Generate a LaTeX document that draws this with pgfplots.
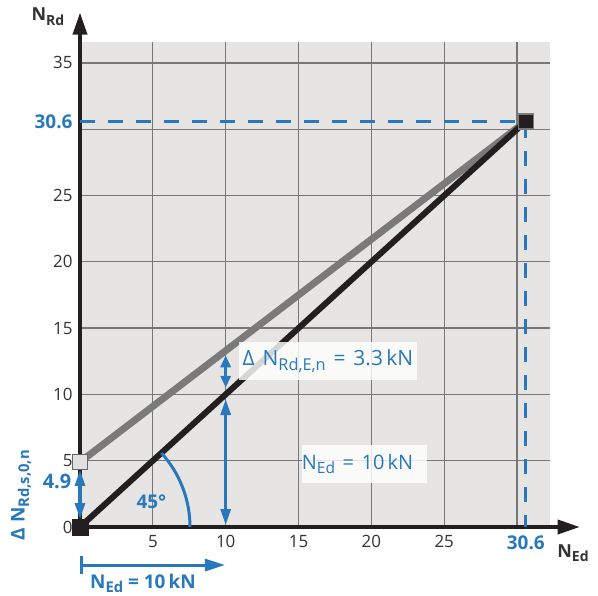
\documentclass[border=0pt]{standalone}
\usepackage{pgfplots}
\pgfplotsset{compat=1.18}
\usepackage{fontspec}
\setmainfont{Open Sans}
\usetikzlibrary{arrows.meta}
\definecolor{bgc}{HTML}{E7E5E3}
\definecolor{gridc}{HTML}{777777}
\definecolor{bl}{HTML}{2878BE}
\definecolor{dk}{HTML}{231F20}
\definecolor{gl}{HTML}{7A7A7A}
\definecolor{txt}{HTML}{333333}
\newcommand\sub[1]{\raisebox{-0.45ex}{\scalebox{0.78}{#1}}}
\newcommand\wsp{\hspace{0.38em}}
\begin{document}
\begin{tikzpicture}
\path[use as bounding box, fill=white] (0,0) rectangle (598bp,596bp);
\begin{axis}[
  at={(80bp,69bp)}, anchor=south west,
  width=470bp, height=485bp, scale only axis,
  xmin=0, xmax=32.26, ymin=0, ymax=36.58,
  axis line style={draw=none},
  axis background/.style={fill=bgc},
  clip=false,
  /pgf/number format/assume math mode=true,
  xtick={5,10,15,20,25,30}, xticklabels={5,10,15,20,25,{}},
  ytick={0,5,10,15,20,25,30,35}, yticklabels={0,5,10,15,20,25,{},35},
  extra x ticks={30.6}, extra x tick labels={\textcolor{bl}{\bfseries\fontsize{19}{21}\selectfont 30.6}},
  extra x tick style={grid=none},
  extra y ticks={30.6}, extra y tick labels={\textcolor{bl}{\bfseries\fontsize{19}{21}\selectfont 30.6}},
  extra y tick style={grid=none},
  grid=major, major grid style={gridc, line width=1.3bp},
  major tick length=0pt,
  tick style={draw=none},
  tick label style={font=\fontsize{17}{19}\selectfont, text=txt},
  xticklabel style={yshift=-5bp},
  yticklabel style={xshift=-4bp},
]
% axes with arrows
\addplot[dk, line width=3.5bp, arrows={-Triangle[length=22bp,width=14bp]}] coordinates {(0,0) (34.3,0)};
\addplot[dk, line width=3.5bp, arrows={-Triangle[length=22bp,width=14bp]}] coordinates {(0,0) (0,38.8)};
% dashed guides
\addplot[bl, line width=3bp, dash pattern=on 15bp off 13bp] coordinates {(0,30.6) (30.6,30.6) (30.6,0)};
% main lines
\addplot[gl, line width=7bp] coordinates {(0,4.9) (30.6,30.6)};
\addplot[dk, line width=6bp] coordinates {(0,0) (30.6,30.6)};
% blue arrows
\addplot[bl, line width=3bp, arrows={Triangle[length=16bp,width=10bp]-Triangle[length=16bp,width=10bp]}] coordinates {(0,0.6) (0,4.3)};
\addplot[bl, line width=3bp, arrows={Triangle[length=16bp,width=10bp]-Triangle[length=16bp,width=10bp]}] coordinates {(10,0.15) (10,9.65)};
\addplot[bl, line width=3bp, arrows={Triangle[length=12bp,width=10bp]-Triangle[length=12bp,width=10bp]}] coordinates {(10,10.5) (10,12.95)};
\addplot[bl, line width=3bp, arrows={Bar[width=18bp]-Triangle[length=20bp,width=12bp]}] coordinates {(0,-2.87) (9.95,-2.87)};
% markers
\addplot[only marks, mark=square*, mark size=7.8bp, mark options={fill=dk, draw=dk}] coordinates {(0,0)};
\addplot[only marks, mark=square*, mark size=7.5bp, mark options={fill=black!12, draw=black!60, line width=1.2bp}] coordinates {(0,4.9)};
\addplot[only marks, mark=square*, mark size=7.5bp, mark options={fill=dk, draw=gl, line width=1.5bp}] coordinates {(30.6,30.6)};
% 45 degree arc
\draw[bl, line width=3bp] (axis cs:0,0) ++(0:110bp) arc[start angle=0, end angle=42.3, radius=110bp];
\node[text=bl, font=\bfseries\fontsize{19}{21}\selectfont] at (axis cs:4.9,1.9) {45°};
% labels
\node[fill=white, fill opacity=0.82, text opacity=1, text=bl, font=\fontsize{21}{23}\selectfont,
      minimum width=178bp, minimum height=38bp, inner sep=0pt] at (axis cs:17.02,12.52)
      {Δ\wsp N\sub{Rd,E,n}\wsp=\wsp3.3\,kN};
\node[fill=white, fill opacity=0.82, text opacity=1, text=bl, font=\fontsize{20}{22}\selectfont,
      minimum width=125bp, minimum height=38bp, inner sep=0pt] at (axis cs:19.53,4.75)
      {\hspace*{-14bp}N\sub{Ed}\wsp=\wsp10\,kN};
\node[text=bl, font=\bfseries\fontsize{20}{22}\selectfont] at (axis cs:-1.58,3.4) {4.9};
\node[text=bl, rotate=90, font=\bfseries\fontsize{19}{21}\selectfont] at (axis cs:-4.05,2.4) {Δ N\sub{Rd,s,0,n}};
\node[text=bl, font=\bfseries\fontsize{19}{21}\selectfont] at (axis cs:4.32,-4.25) {N\sub{Ed} = 10\,kN};
\node[text=txt, font=\bfseries\fontsize{18}{20}\selectfont] at (axis cs:-2.2,38.5) {N\sub{Rd}};
\node[text=txt, font=\bfseries\fontsize{18}{20}\selectfont] at (axis cs:33.84,-1.96) {N\sub{Ed}};
\end{axis}
\end{tikzpicture}
\end{document}
